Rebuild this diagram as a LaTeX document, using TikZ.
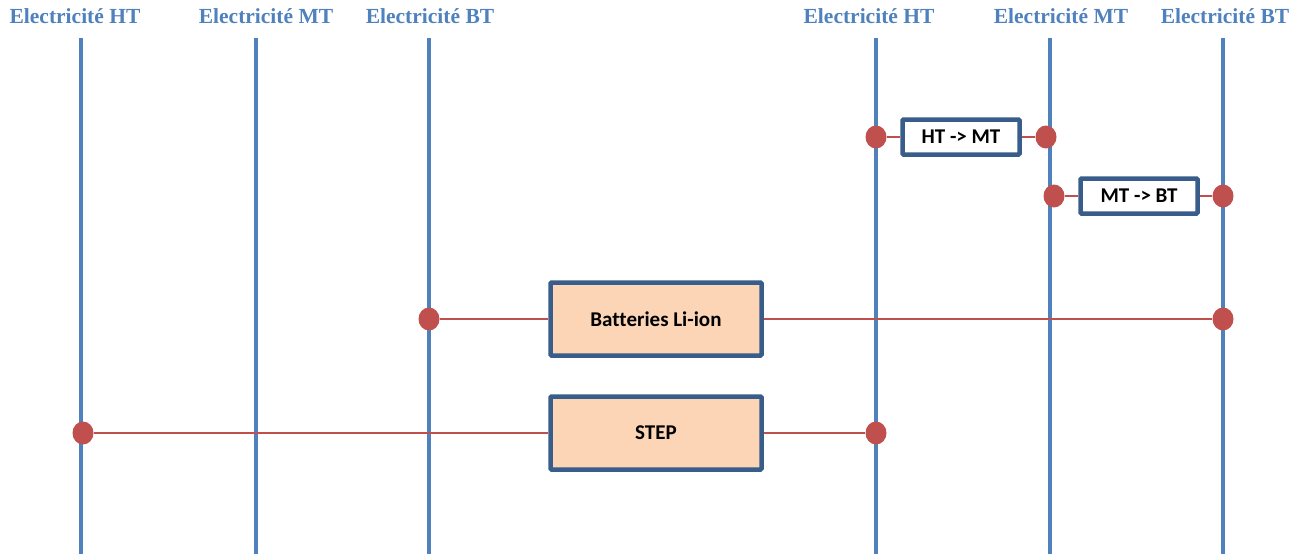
\documentclass[tikz,border=0pt]{standalone}
\usepackage{fontspec}
\setmainfont{Liberation Serif}
\newfontfamily\boxfont{Carlito}[Ligatures=NoCommon]
\usetikzlibrary{positioning,shapes.geometric,backgrounds}
\definecolor{busblue}{HTML}{4F81BD}
\definecolor{linkred}{HTML}{C0504D}
\definecolor{boxedge}{HTML}{385D8A}
\definecolor{boxfill}{HTML}{FBD5B5}

\begin{document}
\begin{tikzpicture}[x=1pt,y=-1pt,
  bus/.style={draw=busblue,line width=3.5pt},
  hdr/.style={font=\fontsize{21.5}{21.5}\selectfont\bfseries,text=busblue,inner sep=0pt},
  conv/.style={draw=boxedge,line width=4.5pt,fill=white,rounded corners=1pt,
               font=\boxfont\fontsize{21}{21}\selectfont\bfseries,
               minimum width=117pt,minimum height=35pt},
  stor/.style={conv,fill=boxfill,minimum width=211pt,minimum height=73pt},
  tap/.style={ellipse,fill=linkred,inner sep=0pt,minimum width=21pt,minimum height=23pt},
  wire/.style={draw=linkred,line width=2pt}]
\useasboundingbox (0,0) rectangle (1299,554);

% bus headers
\node[hdr](hHT1) at (75,16){Electricité HT};
\node[hdr](hMT1) at (266,16){Electricité MT};
\node[hdr](hBT1) at (430,16){Electricité BT};
\node[hdr](hHT2) at (869,16){Electricité HT};
\node[hdr](hMT2) at (1061,16){Electricité MT};
\node[hdr](hBT2) at (1225,16){Electricité BT};

% bus ends
\coordinate (ht1t) at (81,38);   \coordinate (ht1b) at (81,554);
\coordinate (mt1t) at (256,38);  \coordinate (mt1b) at (256,554);
\coordinate (bt1t) at (429,38);  \coordinate (bt1b) at (429,554);
\coordinate (ht2t) at (876,38);  \coordinate (ht2b) at (876,554);
\coordinate (mt2t) at (1050,38); \coordinate (mt2b) at (1050,554);
\coordinate (bt2t) at (1223,38); \coordinate (bt2b) at (1223,554);

% converters and storage
\node[conv](hm) at (961,137){HT -> MT};
\node[conv](mb) at (1139,196){MT -> BT};
\node[stor](bat) at (656,319){Batteries Li-ion};
\node[stor](stp) at (656,433){STEP};

% taps on the buses
\node[tap](hmL) at (876,137){}; \node[tap](hmR) at (1046,137){};
\node[tap](mbL) at (1054,196){}; \node[tap](mbR) at (1223,196){};
\node[tap](batL) at (429,319){}; \node[tap](batR) at (1223,319){};
\node[tap](stpL) at (83,433){}; \node[tap](stpR) at (876,433){};

\begin{scope}[on background layer]
\draw[bus](ht1t)--(ht1b); \draw[bus](mt1t)--(mt1b); \draw[bus](bt1t)--(bt1b);
\draw[bus](ht2t)--(ht2b); \draw[bus](mt2t)--(mt2b); \draw[bus](bt2t)--(bt2b);
\draw[wire](hmL)--(hm.west); \draw[wire](hm.east)--(hmR);
\draw[wire](mbL)--(mb.west); \draw[wire](mb.east)--(mbR);
\draw[wire](batL)--(bat.west); \draw[wire](bat.east)--(batR);
\draw[wire](stpL)--(stp.west); \draw[wire](stp.east)--(stpR);
\end{scope}
\end{tikzpicture}
\end{document}
